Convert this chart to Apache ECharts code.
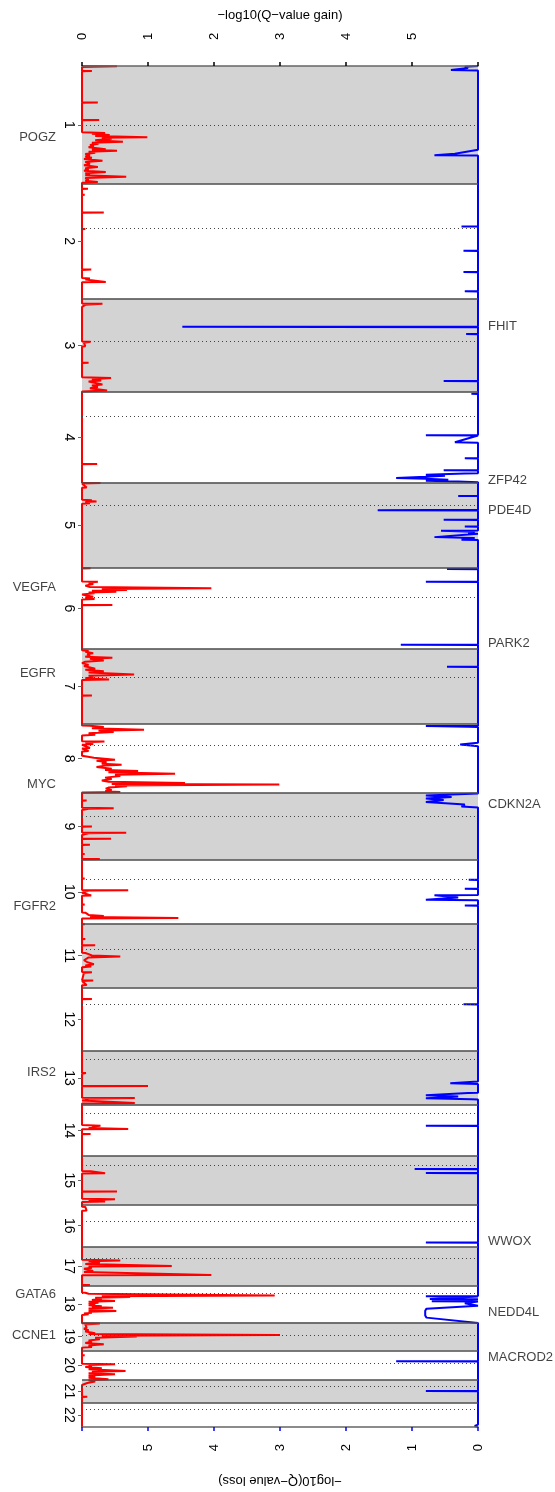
<!DOCTYPE html>
<html><head><meta charset="utf-8">
<script src="https://cdn.jsdelivr.net/npm/echarts@6/dist/echarts.min.js"></script>
<style>html,body{margin:0;padding:0;background:#fff}#c{width:555px;height:1492px}</style>
</head><body><div id="c"></div>
<script>
// ---- data ----
const chromNames = ['1','2','3','4','5','6','7','8','9','10','11','12','13','14','15','16','17','18','19','20','21','22'];
const chromLengths = [249.25,243.2,198.02,191.15,180.92,171.12,159.14,146.36,141.21,135.53,135.01,133.85,115.17,107.35,102.53,90.35,81.2,78.08,59.13,63.03,48.13,51.3];
const centromeres = [125.0,93.3,91.0,50.4,48.4,61.0,59.9,45.6,49.0,40.2,53.7,35.8,17.9,17.6,19.0,36.6,24.0,17.2,26.5,27.5,13.2,14.7];
const valueTicks = [0,1,2,3,4,5];

// gain profile: [genome position (Mb, cumulative), -log10 q gain]
const gainProfile = [
[0,0],[0.5,0.53],[2,0],[10,0],[10.6,0.15],[11.2,0],[77,0],[77.5,0.24],[78,0],[113.6,0],[114.1,0.26],[114.6,0],
[140,0],[141.6,0.35],[143.5,0.15],[145.8,0.42],[148,0.2],[150.6,0.99],[152,0.3],[154.2,0.45],[157,0.2],[160.6,0.62],[162.5,0.15],[164.8,0.25],[167,0.12],[169,0.18],[172,0.1],[176,0.36],[177.5,0.15],[179.6,0.53],[181.5,0.1],[183.8,0.2],[186.5,0.05],[189.5,0.12],[191.5,0.05],[194.4,0.15],[197,0.03],[200.7,0.31],[203,0.05],[207,0.12],[210,0.03],[214,0.24],[216.5,0.05],[219.7,0.1],[222,0.03],[224.6,0.36],[227,0.05],[229.2,0.12],[231.5,0.05],[234.5,0.67],[237,0.05],[240.9,0.1],[243,0.05],[245.7,0.24],[247,0],
[259.4,0],[259.9,0.09],[260.4,0],[272.1,0],[272.6,0.04],[273.1,0],[309.5,0],[310,0.33],[310.5,0],[344.5,0],[345,0.05],[345.5,0],[430,0],[431,0.14],[432,0],[449,0],[450,0.12],[452,0.05],[457,0.36],[458,0],
[503,0],[503.5,0.31],[505.5,0.05],[509.2,0.08],[510,0],[583.3,0],[583.8,0.13],[586,0.03],[593.1,0.05],[594,0],[627.6,0],[628.1,0.1],[628.6,0],
[659,0],[660.7,0.44],[663,0.15],[665.5,0.29],[668,0.1],[674,0.31],[676.5,0.15],[679.7,0.24],[682,0.12],[686.7,0.38],[689,0],
[841.9,0],[842.4,0.23],[842.9,0],
[882,0],[882.5,0.28],[884,0],[892.2,0.07],[893,0],[918,0],[919,0.15],[920,0.05],[921.8,0.22],[923,0.05],[925.4,0.12],[926.5,0],[1063,0],[1063.3,0.13],[1063.8,0],
[1091.2,0],[1091.7,0.24],[1094,0.1],[1096.5,0.17],[1100,0.05],[1103,0.12],[1105.6,1.96],[1107,0.3],[1109.2,0.68],[1111,0.15],[1112.8,0.52],[1114.5,0.1],[1116.2,0.19],[1119,0],[1123.4,0.17],[1125,0.05],[1128.2,0.19],[1129.5,0],[1140.4,0],[1140.9,0.46],[1141.4,0],
[1237,0],[1238.1,0.1],[1240,0.05],[1242.9,0.17],[1245,0.08],[1248.6,0.12],[1250.5,0.05],[1252.9,0.46],[1255,0.12],[1258.6,0.33],[1261,0.05],[1264,0],[1267.7,0.1],[1270,0.03],[1276.1,0.2],[1278,0.05],[1281,0.33],[1284,0.1],[1288.2,0.79],[1290.5,0.1],[1293.7,0.17],[1296,0.05],[1298.8,0.41],[1300,0],[1332.1,0],[1332.6,0.15],[1333.1,0],
[1396,0],[1396.6,0.12],[1399.3,0.33],[1402,0.15],[1405,0.94],[1407,0.25],[1409.9,0.48],[1412.5,0.1],[1415.6,0.2],[1417,0],[1429.2,0],[1429.7,0.34],[1432,0.05],[1435.2,0.17],[1437,0],[1443.7,0.12],[1445,0],[1450,0.1],[1451,0],
[1459.9,0],[1464.2,0.18],[1468.4,0.5],[1470.5,0.22],[1473.2,0.37],[1476.8,0.3],[1478.9,0.6],[1481,0.35],[1483.8,0.22],[1487.4,0.45],[1490,0.35],[1492.3,0.85],[1494.8,0.4],[1498,1.41],[1500.1,0.5],[1502.8,0.58],[1506.4,0.35],[1509.5,0.45],[1512.7,0.3],[1515,0.4],[1517.6,1.56],[1520.1,0.45],[1521.2,2.99],[1523,0.5],[1524.8,0.68],[1527.5,0.4],[1529.7,0.36],[1532.8,0.45],[1535,0.35],[1536.6,0.58],[1538,0],
[1554.4,0],[1554.9,0.07],[1555.4,0],[1570,0],[1571,0.48],[1572.5,0.1],[1574.1,0.07],[1575,0],[1609.3,0],[1609.8,0.15],[1610.3,0],[1622.6,0],[1623.1,0.67],[1624,0.1],[1626,0.05],[1628,0],[1635.3,0],[1635.8,0.44],[1636.3,0],[1648,0],[1648.5,0.12],[1649,0],[1667.6,0],[1668.1,0.04],[1668.6,0],[1678.2,0],[1678.7,0.27],[1679.2,0],
[1719.5,0],[1720,0.04],[1720.5,0],[1744.1,0],[1744.6,0.7],[1746,0.1],[1748,0.05],[1750,0],[1755.7,0.14],[1756.5,0],[1774.3,0],[1774.8,0.04],[1775.3,0],[1791.8,0],[1792.3,0.05],[1794,0.03],[1797,0.1],[1799.5,0.33],[1801.5,0.12],[1803.7,1.46],[1804.5,0],
[1816.5,0],[1817,0.04],[1817.5,0],[1832,0],[1832.4,0.03],[1833,0],[1847.5,0],[1848,0.05],[1848.5,0],[1860.9,0],[1861.4,0.2],[1861.9,0],[1877,0],[1877.6,0.05],[1880,0.1],[1883,0.15],[1885.2,0.58],[1887,0.1],[1890.9,0.13],[1893,0.03],[1897,0.08],[1901.5,0.18],[1904,0.05],[1906.4,0.14],[1908,0],[1918,0],[1918.4,0.15],[1920,0.03],[1922.7,0.05],[1923.5,0],[1935.5,0],[1936,0.17],[1937,0],[1945.3,0.07],[1946,0],
[1974.3,0],[1974.8,0.15],[1975.3,0],
[2131.3,0],[2131.8,0.06],[2133,0.06],[2133.5,0],[2158.8,0],[2159.3,1.0],[2159.8,0],[2184.1,0],[2184.6,0.8],[2186,0.05],[2187.8,0.1],[2190,0],[2195.2,0.8],[2196,0],
[2242,0],[2243.1,0.28],[2245,0.15],[2246.9,0.2],[2248,0.1],[2250.1,0.7],[2251,0],[2260.2,0],[2260.7,0.13],[2261.2,0],
[2339,0],[2339.7,0.13],[2341.5,0.1],[2343.9,0.35],[2344.5,0],[2382.1,0],[2382.6,0.53],[2383.1,0],[2398,0],[2398.9,0.5],[2401,0.1],[2403.7,0.35],[2404.5,0],
[2414.6,0],[2415.1,0.05],[2418,0.03],[2422.9,0.07],[2423.4,0],[2457.5,0],[2458,0.03],[2458.5,0],
[2527,0],[2528.4,0.58],[2530,0.1],[2533.3,0.27],[2536,0.05],[2540.3,1.36],[2541.5,0.1],[2543.9,0.15],[2546,0.03],[2550.8,0.17],[2553,0.03],[2556,0.05],[2559.3,1.96],[2560,0],[2580,0],[2580.4,0.12],[2580.8,0],
[2596.2,0],[2596.7,0.05],[2599,0.1],[2602.4,2.92],[2604,0.3],[2605.8,0.73],[2607.5,0.2],[2609.4,0.3],[2612,0.15],[2614.3,0.5],[2616,0.1],[2617.9,0.25],[2619.5,0.1],[2621.5,0.2],[2623.5,0.1],[2625.3,0.3],[2627,0.15],[2628.5,0.47],[2630,0.1],[2631.6,0.2],[2633.5,0.1],[2635.4,0.52],[2637,0.1],[2639,0.15],[2640.5,0.03],[2642.6,0.1],[2644,0],
[2661.5,0],[2662.2,0.27],[2664,0.05],[2670.6,0.07],[2673,0.03],[2676.3,0.1],[2679,0.05],[2682.3,0.2],[2684,0.1],[2686.1,3.0],[2688,0.3],[2689.7,0.83],[2692,0.2],[2695.4,0.27],[2698,0.1],[2700.3,0.15],[2703,0.05],[2706,0.33],[2708.5,0.1],[2711.5,0.15],[2713,0],
[2728.8,0],[2729.3,0.04],[2729.8,0],[2747,0],[2748.3,0.5],[2750,0.1],[2751.7,0.15],[2754,0.05],[2756.4,0.3],[2759,0.1],[2762.3,0.66],[2764,0.15],[2765.9,0.25],[2767.5,0.1],[2769.5,0.5],[2772,0.1],[2774.9,0.2],[2777,0.1],[2780,0.4],[2782,0.1],[2784.9,0.2],[2788,0.08],[2790.6,0.1],[2792,0],
[2816.7,0],[2817.2,0.08],[2817.7,0],[2881.03,0]
];

// loss profile: [genome position (Mb, cumulative), -log10 q loss]
const lossProfile = [
[0,0],[1.5,0.2],[4.2,0.15],[8.5,0.41],[9.5,0],[177.5,0],[185.9,0.35],[189.1,0.66],[189.6,0],
[339,0],[339.5,0.25],[340,0],[390.4,0],[390.9,0.22],[391.4,0],[435.4,0],[435.9,0.22],[436.4,0],[476.4,0],[476.9,0.2],[477.4,0],
[551.6,0],[552.1,4.48],[552.8,0],[566.8,0],[567.3,0.18],[567.8,0],[666.5,0],[667,0.52],[667.5,0],
[693.1,0],[693.6,0.1],[694.5,0],[781.2,0],[781.7,0.79],[782.2,0],[783.8,0],[796.5,0.35],[797.6,0],[829.8,0],[830.3,0.2],[830.8,0],[855.2,0],[855.7,0.52],[856.2,0],
[862.1,0],[862.6,0.2],[865.2,0.79],[867.3,0.5],[869.4,0.79],[871.9,1.24],[873.6,0.79],[875.7,0.45],[877.9,0.79],[879.6,0.3],[881,0],
[909.5,0],[910,0.3],[910.5,0],[939.5,0],[940.2,1.52],[941,0],[960.2,0],[960.7,0.52],[961.2,0],[974.2,0],[974.7,0.2],[975.2,0],[983.5,0],[984,0.56],[986,0.05],[988.8,0.15],[990,0],[997.3,0.66],[999,0.05],[1003,0.25],[1003.5,0],
[1064.4,0],[1064.9,0.47],[1065.4,0],[1091.4,0],[1091.9,0.79],[1092.4,0],[1224.7,0],[1225.2,1.17],[1225.7,0],
[1271.2,0],[1271.7,0.47],[1272.2,0],
[1396.5,0],[1397.2,0.79],[1398.7,0.15],[1399.5,0],[1432.5,0],[1436.3,0.27],[1439.9,0],
[1540.2,0],[1544.5,0.79],[1547.6,0.4],[1550.8,0.79],[1554,0.52],[1558.2,0.79],[1563.5,0.2],[1567.7,0.25],[1569.8,0],
[1722.3,0],[1722.8,0.14],[1723.3,0],[1741.1,0],[1741.6,0.2],[1742.1,0],[1754.8,0],[1755.3,0.66],[1760,0.3],[1764.8,0.79],[1766,0],[1776.4,0],[1776.9,0.2],[1777.4,0],
[1985.5,0],[1986,0.22],[1986.5,0],
[2149.8,0],[2153.6,0.42],[2155.1,0],[2173.6,0],[2174.1,0.15],[2178.7,0.79],[2181.5,0.3],[2183.4,0.52],[2185,0.79],[2187,0.1],[2188,0],
[2243,0],[2243.5,0.79],[2244,0],[2334.6,0],[2335.1,0.96],[2335.6,0],[2343,0],[2343.5,0.79],[2344,0],
[2489.9,0],[2490.4,0.79],[2490.9,0],
[2603.8,0],[2604.3,0.79],[2605,0],[2610,0.73],[2610.8,0],[2614.9,0.7],[2615.5,0],[2619.1,0.2],[2624.2,0],[2630.5,0.78],[2635,0.8],[2639,0.78],[2645,0.8],[2649.5,0.78],[2661.1,0],
[2741.2,0],[2741.7,1.24],[2742.2,0],[2804.4,0],[2804.9,0.79],[2805.4,0],[2876,0],[2878.9,0.05],[2881.03,0]
];

const gainGenes = ['POGZ','VEGFA','EGFR','MYC','FGFR2','IRS2','GATA6','CCNE1'];
const gainGenePos = [152.1,1102.9,1286.7,1521.2,1779,2129.7,2601.4,2688];
const lossGenes = ['FHIT','ZFP42','PDE4D','PARK2','CDKN2A','WWOX','NEDD4L','MACROD2'];
const lossGenePos = [551.4,876.8,940.2,1223.2,1563.5,2488.3,2639,2734];

// ---- derived layout helpers ----
const FONT = '"Liberation Sans", Arial, Helvetica, sans-serif';
const offsets = []; let acc = 0;
chromLengths.forEach(l => { offsets.push(acc); acc += l; });
const TOTAL = acc;
const mids = offsets.map((o, i) => o + chromLengths[i] / 2);
const bounds = offsets.slice(1);
const cens = offsets.map((o, i) => o + centromeres[i]);
const bands = [];
chromLengths.forEach((l, i) => { if (i % 2 === 0) bands.push([{ yAxis: offsets[i] }, { yAxis: offsets[i] + l }]); });

const chart = echarts.init(document.getElementById('c'), null, { renderer: 'canvas' });
const axisText = { fontSize: 13, color: '#000', fontFamily: FONT };
chart.setOption({
  animation: false,
  backgroundColor: '#fff',
  grid: { left: 82, right: 77, top: 66, bottom: 63 },
  xAxis: [
    {
      type: 'value', position: 'top', min: 0, max: 6, interval: 1, z: 5,
      name: '\u2212log10(Q\u2212value gain)', nameLocation: 'middle', nameGap: 44,
      nameTextStyle: axisText,
      axisLine: { show: true, onZero: false, lineStyle: { color: '#666', width: 1.5 } },
      axisTick: { show: true, length: 4, lineStyle: { color: '#000', width: 1.5 } },
      axisLabel: Object.assign({ rotate: -90, margin: 26, formatter: v => valueTicks.includes(v) ? String(v) : '' }, axisText),
      splitLine: { show: false }
    },
    {
      type: 'value', position: 'bottom', inverse: true, min: 0, max: 6, interval: 1, z: 5,
      name: '\u2212log10(Q\u2212value loss)', nameLocation: 'middle', nameGap: 47, nameRotate: 180,
      nameTextStyle: axisText,
      axisLine: { show: true, onZero: false, lineStyle: { color: '#666', width: 1.5 } },
      axisTick: { show: true, length: 4, lineStyle: { color: '#0000ff', width: 1.5 } },
      axisLabel: Object.assign({ rotate: 90, margin: 17, formatter: v => valueTicks.includes(v) ? String(v) : '' }, axisText),
      splitLine: { show: false }
    }
  ],
  yAxis: {
    type: 'value', inverse: true, min: 0, max: TOTAL, z: 5,
    axisLine: { show: false },
    splitLine: { show: false },
    axisTick: { show: true, customValues: mids, length: 4, lineStyle: { color: '#666' } },
    axisLabel: Object.assign({
      customValues: mids, rotate: -90, margin: 6,
      formatter: v => { const i = mids.findIndex(m => Math.abs(m - v) < 0.01); return i >= 0 ? chromNames[i] : ''; }
    }, axisText, { fontSize: 14 })
  },
  series: [
    {
      type: 'line', xAxisIndex: 0, yAxisIndex: 0, data: [], z: 1, silent: true,
      markArea: { silent: true, itemStyle: { color: '#d3d3d3' }, data: bands },
      markLine: {
        silent: true, symbol: ['none', 'none'], label: { show: false },
        data: bounds.map(b => ({ yAxis: b, lineStyle: { type: 'solid', color: '#4d4d4d', width: 1.6 } }))
          .concat(cens.map(c => ({ yAxis: c, lineStyle: { type: [1, 3], color: '#444', width: 1 } })))
      }
    },
    {
      type: 'line', xAxisIndex: 0, yAxisIndex: 0, z: 3, symbol: 'none', silent: true,
      lineStyle: { color: '#ff0000', width: 2 },
      data: gainProfile.map(d => [d[1], d[0]])
    },
    {
      type: 'line', xAxisIndex: 1, yAxisIndex: 0, z: 3, symbol: 'none', silent: true,
      lineStyle: { color: '#0000ff', width: 2 },
      data: lossProfile.map(d => [d[1], d[0]])
    },
    {
      type: 'scatter', xAxisIndex: 0, yAxisIndex: 0, symbolSize: 0, z: 4, silent: true,
      label: { show: true, position: 'left', distance: 26, formatter: '{b}', fontSize: 13, color: '#111', fontFamily: FONT },
      data: gainGenes.map((g, i) => ({ name: g, value: [0, gainGenePos[i]] }))
    },
    {
      type: 'scatter', xAxisIndex: 1, yAxisIndex: 0, symbolSize: 0, z: 4, silent: true,
      label: { show: true, position: 'right', distance: 10, formatter: '{b}', fontSize: 13, color: '#111', fontFamily: FONT },
      data: lossGenes.map((g, i) => ({ name: g, value: [0, lossGenePos[i]] }))
    }
  ]
});
</script>
</body></html>
